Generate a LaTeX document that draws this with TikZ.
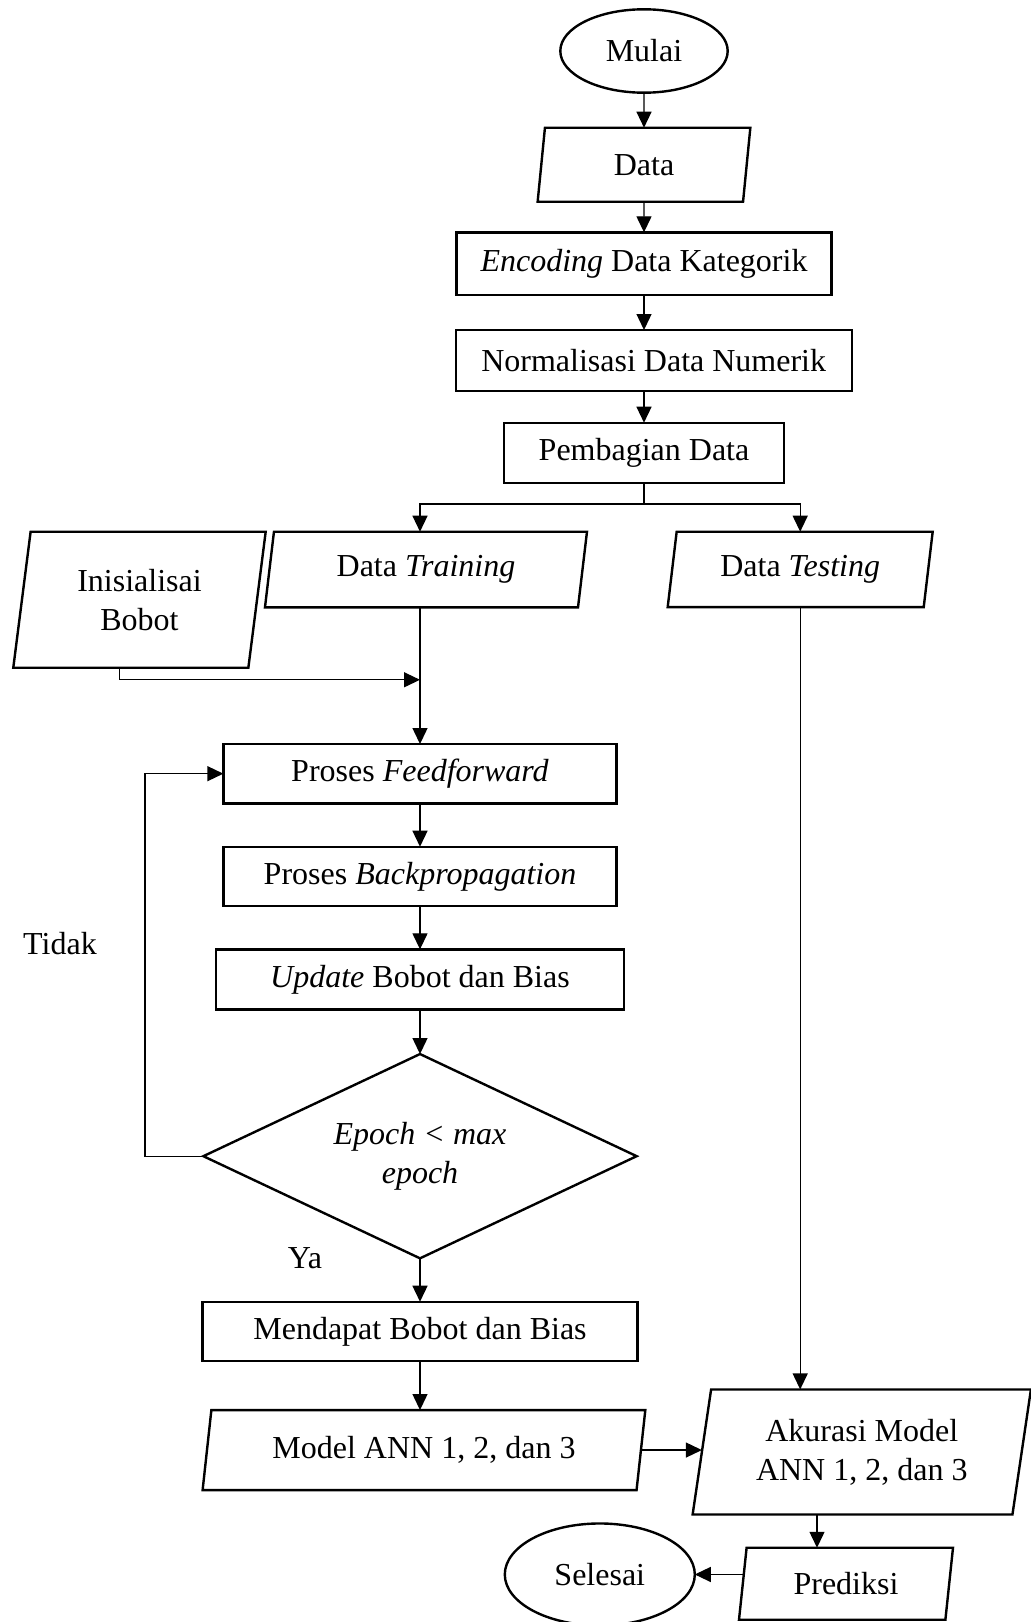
\documentclass[tikz,border=0pt]{standalone}
\usepackage{fontspec}
\setmainfont{Liberation Serif}
\usepackage{tikz}
\usetikzlibrary{positioning}
\usetikzlibrary{shapes.geometric,arrows.meta,calc}

\begin{document}
\begin{tikzpicture}[x=0.5pt, y=0.5pt, font=\fontsize{16}{19.5}\selectfont,
    base/.style = {draw, line width=1.2pt, outer sep=0pt, align=center},
    box/.style = {base, rectangle, inner sep=2pt},
    io/.style = {base, trapezium, trapezium left angle=76, trapezium right angle=104, trapezium stretches body, inner sep=2pt},
    term/.style = {base, ellipse, inner sep=0pt},
    cond/.style = {base, diamond, aspect=2.12, inner sep=0pt},
    arr/.style = {line width=0.65pt, -{Triangle[length=8pt, width=7.5pt]}},
    lbl/.style = {inner sep=0pt}]
            \useasboundingbox (0,0) rectangle (1031,-1622);
            \node[term, minimum width=83.7pt, minimum height=41.7pt](mulai) at (644,-51){Mulai};
            \node[io, minimum width=106.35pt, minimum height=37pt](data)[below=17.5pt of mulai]{Data};
            \node[box, minimum width=187.5pt, minimum height=31.35pt](enc)[below=15.3pt of data]{\textit{Encoding} Data Kategorik};
            \node[box, minimum width=198pt, minimum height=30.35pt](norm)[below=17.5pt of enc, xshift=4.85pt]{Normalisasi Data Numerik};
            \node[box, minimum width=140pt, minimum height=30pt](bagi)[below=16pt of norm, xshift=-4.85pt]{Pembagian Data};
            \node[io, minimum width=161pt, minimum height=37.8pt](train)[below=24.5pt of bagi, xshift=-109pt]{Data \textit{Training}};
            \node[io, minimum width=132.5pt, minimum height=37.7pt](test)[below=24.5pt of bagi, xshift=78.1pt]{Data \textit{Testing}};
            \node[io, minimum width=126.2pt, minimum height=68pt](init)[below=24.5pt of bagi, xshift=-252.25pt]{Inisialisai\\Bobot};
            \node[box, minimum width=196.65pt, minimum height=29.65pt](ff)[below=68.35pt of train, xshift=-3pt]{Proses \textit{Feedforward}};
            \node[box, minimum width=196.65pt, minimum height=29.65pt](bp)[below=21.7pt of ff]{Proses \textit{Backpropagation}};
            \node[box, minimum width=204.25pt, minimum height=30pt](upd)[below=21.65pt of bp]{\textit{Update} Bobot dan Bias};
            \node[cond, minimum width=216.65pt, minimum height=102.15pt](cek)[below=22.35pt of upd]{\textit{Epoch < max}\\\textit{epoch}};
            \node[box, minimum width=217.5pt, minimum height=29.65pt](dapat)[below=21.7pt of cek]{Mendapat Bobot dan Bias};
            \node[io, minimum width=221.35pt, minimum height=40pt](model)[below=24.5pt of dapat, xshift=2pt]{Model ANN 1, 2, dan 3};
            \node[io, minimum width=169.15pt, minimum height=62.5pt](akur)[below=391.15pt of test, xshift=30.8pt]{Akurasi Model\\ANN 1, 2, dan 3};
            \node[io, minimum width=107pt, minimum height=36pt](pred)[below=16.65pt of akur, xshift=-7.9pt]{Prediksi};
            \node[term, minimum width=95pt, minimum height=51pt](selesai)[left=24pt of pred, yshift=4.65pt]{Selesai};
            \node[lbl](tidak) at (60,-944){Tidak};
            \node[lbl](ya) at (305,-1258){Ya};
            \coordinate (trainout) at (ff.north |- train.south);
            \draw[arr] (mulai) -- (data);
            \draw[arr] (data) -- (enc);
            \draw[arr] (enc.south) -- (enc.south |- norm.north);
            \draw[arr] (bagi.north |- norm.south) -- (bagi.north);
            \draw[arr] (bagi.south) -- ++(0,-10.65pt) -| (trainout |- train.north);
            \draw[arr] (bagi.south) -- ++(0,-10.65pt) -| (test.north);
            \draw[arr] (trainout) -- (ff.north);
            \draw[arr] ([xshift=-10pt]init.south) |- ($(trainout)!.53!(ff.north)$);
            \draw[arr] (ff) -- (bp);
            \draw[arr] (bp.south) -- (bp.south |- upd.north);
            \draw[arr] (upd.south -| bp.south) -- (cek.north -| bp.south);
            \draw[arr] (cek.west) -- ++(-29.15pt,0) |- (ff.west);
            \draw[arr] (cek) -- (dapat);
            \draw[arr] (dapat.south) -- (dapat.south |- model.north);
            \draw[arr] (model.east) -- (model.east -| akur.west);
            \draw[arr] (test.south) -- (test.south |- akur.north);
            \coordinate (predtop) at ([xshift=-14.5pt]pred.north);
            \draw[arr] (predtop |- akur.south) -- (predtop);
            \draw[arr] (pred.west |- selesai.east) -- (selesai.east);
        \end{tikzpicture}
\end{document}
